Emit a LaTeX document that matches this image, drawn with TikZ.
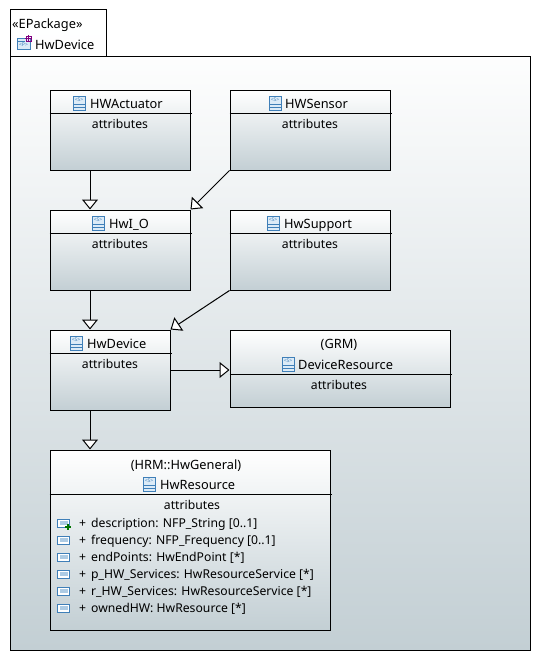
\documentclass[tikz,border=0pt]{standalone}
\usepackage{fontspec}
\setmainfont{Noto Sans}
\usetikzlibrary{arrows.meta}

\definecolor{iconblue}{HTML}{3F7FB8}
\definecolor{iconfill}{HTML}{DCEBF7}
\definecolor{shadeend}{HTML}{C3CFD4}

\tikzset{
  classbox/.style={draw=black,line width=1pt,rectangle,inner sep=0pt,top color=white,bottom color=shadeend},
  pkgbox/.style={draw=black,line width=1pt,rectangle,inner sep=0pt},
  title/.style={inner sep=0pt,yshift=-1pt,font=\fontsize{12.8}{14}\selectfont,text height=9.5pt,text depth=2.5pt},
  member/.style={title,font=\fontsize{12.2}{14}\selectfont},
  inherits/.style={-{Triangle[open,length=10pt,width=16pt,fill=white]},line width=1pt},
  classicon/.pic={
    \draw[iconblue,fill=iconfill,line width=.8pt] (0,0) rectangle (12,14);
    \draw[iconblue,line width=.8pt] (0,8) -- (12,8) (0,11) -- (12,11);
    \node[iconblue,inner sep=0pt,font=\fontsize{5}{5}\selectfont\bfseries] at (6,4) {<S>};
  },
  attricon/.pic={
    \draw[iconblue,fill=white,line width=.8pt] (0,0) rectangle (12,8);
    \fill[iconfill!70!iconblue] (2,2) rectangle (10,6);
  }
}

\begin{document}
\begin{tikzpicture}[x=1pt,y=-1pt]
  \useasboundingbox (0,0) rectangle (541,661);

  % package frame
  \node[pkgbox,top color=white,bottom color=white!98!shadeend,minimum width=96pt,minimum height=47pt] (tab) at (58,33.5) {};
  \node[pkgbox,top color=white!97!shadeend,bottom color=shadeend,minimum width=520pt,minimum height=593pt] (frame) at (270,353.5) {};
  \node[title,anchor=west] (stereo) at (12,24.5) {«EPackage»};
  \node[title,anchor=west] (pkgname) at (35,45) {HwDevice};
  \draw[iconblue,fill=iconfill,line width=.8pt] (17,38) rectangle (30,49);
  \draw[iconblue,line width=.8pt] (17,41) -- (25,41);
  \node[iconblue,inner sep=0pt,font=\fontsize{5}{5}\selectfont\bfseries] (pkgicon) at (23.5,45) {<P>};
  \draw[violet,line width=.8pt] (26,36) -- (31,36) -- (31,41) -- (26,41) -- cycle (28.5,35) -- (28.5,42) (25,38.5) -- (32,38.5);

  % classes
  \node[classbox,minimum width=140pt,minimum height=80pt] (HWActuator) at (120,130) {};
  \node[classbox,minimum width=160pt,minimum height=80pt] (HWSensor)   at (310,130) {};
  \node[classbox,minimum width=140pt,minimum height=80pt] (HwIO)       at (120,250) {};
  \node[classbox,minimum width=160pt,minimum height=80pt] (HwSupport)  at (310,250) {};
  \node[classbox,minimum width=120pt,minimum height=80pt] (HwDevice)   at (110,370) {};
  \node[classbox,minimum width=220pt,minimum height=77pt] (DeviceResource) at (340,368.5) {};
  \node[classbox,minimum width=280pt,minimum height=180pt] (HwResource) at (190,540) {};

  % header rules
  \draw[line width=1pt] ([yshift=-24pt]HWActuator.north west) -- ([yshift=-24pt,xshift=1pt]HWActuator.north east);
  \draw[line width=1pt] ([yshift=-24pt]HWSensor.north west) -- ([yshift=-24pt,xshift=1pt]HWSensor.north east);
  \draw[line width=1pt] ([yshift=-24pt]HwIO.north west) -- ([yshift=-24pt,xshift=1pt]HwIO.north east);
  \draw[line width=1pt] ([yshift=-24pt]HwSupport.north west) -- ([yshift=-24pt,xshift=1pt]HwSupport.north east);
  \draw[line width=1pt] ([yshift=-24pt]HwDevice.north west) -- ([yshift=-24pt,xshift=1pt]HwDevice.north east);
  \draw[line width=1pt] ([yshift=-45pt]DeviceResource.north west) -- ([yshift=-45pt,xshift=1pt]DeviceResource.north east);
  \draw[line width=1pt] ([yshift=-45pt]HwResource.north west) -- ([yshift=-45pt,xshift=1pt]HwResource.north east);

  % names
  \node[title,anchor=west] (n1) at (90,104) {HWActuator};
  \node[title,anchor=west] (n2) at (285,104) {HWSensor};
  \node[title,anchor=west] (n3) at (109,224) {HwI\_O};
  \node[title,anchor=west] (n4) at (284,224) {HwSupport};
  \node[title,anchor=west] (n5) at (87,344) {HwDevice};
  \node[title] (grm) at (339,343.5) {(GRM)};
  \node[title,anchor=west] (n6) at (298,365) {DeviceResource};
  \node[title] (hrm) at (186,464.5) {(HRM::HwGeneral)};
  \node[title,anchor=west] (n7) at (160,485) {HwResource};

  \path (73,96) pic {classicon} (269,96) pic {classicon} (92,216) pic {classicon}
        (267,216) pic {classicon} (70,336) pic {classicon} (282,357) pic {classicon}
        (143,477) pic {classicon};

  % compartments
  \foreach \px/\py in {120/124,310/124,120/244,310/244,110/364,339/385,192/505}
    \node[member] at (\px,\py) {attributes};

  \foreach \ln/\txt in {523/{description: NFP\_String [0..1]},
                        540/{frequency: NFP\_Frequency [0..1]},
                        557/{endPoints: HwEndPoint [*]},
                        574/{p\_HW\_Services: HwResourceService [*]},
                        591/{r\_HW\_Services: HwResourceService [*]},
                        608/{ownedHW: HwResource [*]}}{
    \node[member,anchor=west] at (79,\ln) {+\hspace{5pt}\txt};
    \path (57.5,\ln-4) pic {attricon};
  }
  \draw[green!45!black,line width=1.2pt] (65,527) -- (71,527) (68,524) -- (68,530);

  % generalizations
  \draw[inherits] ([xshift=-30pt]HWActuator.south) -- ([xshift=-30pt]HwIO.north);
  \draw[inherits] (HWSensor.south west) -- (HwIO.north east);
  \draw[inherits] ([xshift=-30pt]HwIO.south) -- ([xshift=-20pt]HwDevice.north);
  \draw[inherits] (HwSupport.south west) -- (HwDevice.north east);
  \draw[inherits] (HwDevice.east) -- (DeviceResource.west |- HwDevice.east);
  \draw[inherits] ([xshift=-20pt]HwDevice.south) -- (HwResource.north -| 90,0);
\end{tikzpicture}
\end{document}
